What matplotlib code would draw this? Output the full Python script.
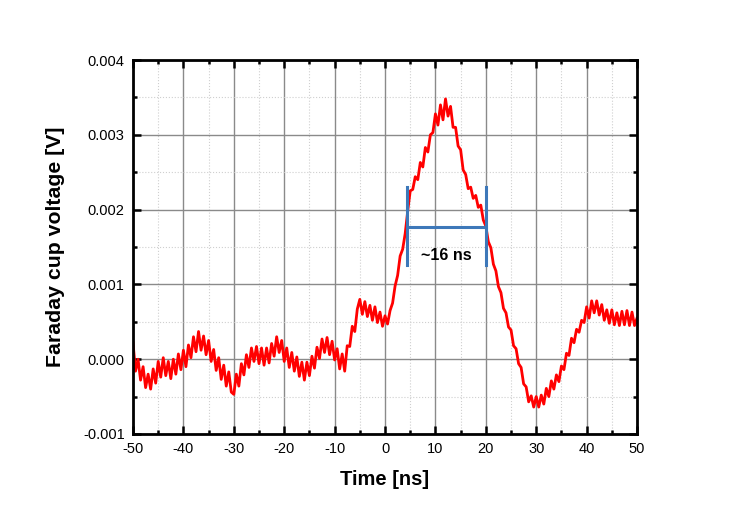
import numpy as np
import matplotlib
matplotlib.use("Agg")
import matplotlib.pyplot as plt
from matplotlib.ticker import MultipleLocator, FormatStrFormatter

# Faraday cup trace, every 0.5 ns from -50 to 50 ns (mV)
volt_mv = [
    0.22, -0.16, 0.0, -0.28, -0.1, -0.38, -0.2, -0.4, -0.13, -0.32,
    -0.03, -0.24, 0.02, -0.22, -0.03, -0.26, 0.0, -0.2, 0.07, -0.14,
    0.12, -0.1, 0.19, 0.02, 0.3, 0.1, 0.37, 0.12, 0.31, 0.06,
    0.25, -0.03, 0.13, -0.15, 0.02, -0.27, -0.08, -0.36, -0.17, -0.44,
    -0.47, -0.2, -0.36, -0.06, -0.21, 0.06, -0.11, 0.15, -0.03, 0.17,
    -0.06, 0.15, -0.08, 0.15, -0.05, 0.21, 0.04, 0.3, 0.09, 0.25,
    -0.03, 0.15, -0.11, 0.09, -0.16, 0.03, -0.23, -0.04, -0.28, -0.04,
    -0.22, 0.04, -0.12, 0.16, 0.01, 0.27, 0.09, 0.29, 0.06, 0.24,
    -0.01, 0.14, -0.13, 0.07, -0.16, 0.18, 0.17, 0.44, 0.37, 0.67,
    0.8, 0.6, 0.77, 0.57, 0.72, 0.52, 0.7, 0.49, 0.63, 0.44,
    0.58, 0.47, 0.65, 0.75, 0.98, 1.12, 1.38, 1.47, 1.68, 1.98,
    2.25, 2.27, 2.44, 2.4, 2.63, 2.57, 2.83, 2.77, 3.0, 3.03,
    3.28, 3.13, 3.4, 3.2, 3.48, 3.25, 3.38, 3.1, 3.1, 2.85,
    2.8, 2.53, 2.47, 2.28, 2.3, 2.15, 2.19, 2.03, 2.06, 1.86,
    1.78, 1.57, 1.49, 1.27, 1.18, 0.97, 0.89, 0.68, 0.62, 0.43,
    0.39, 0.18, 0.14, -0.06, -0.11, -0.33, -0.37, -0.57, -0.49, -0.64,
    -0.5, -0.64, -0.48, -0.6, -0.39, -0.5, -0.29, -0.4, -0.21, -0.3,
    -0.09, -0.14, 0.08, 0.05, 0.28, 0.22, 0.4, 0.36, 0.52, 0.49,
    0.7, 0.55, 0.78, 0.62, 0.78, 0.59, 0.73, 0.52, 0.66, 0.48,
    0.66, 0.46, 0.62, 0.45, 0.64, 0.46, 0.65, 0.45, 0.63, 0.45,
    0.55,
]

# FWHM marker
fwhm_start = 4.4
fwhm_end = 20.0
fwhm_level = 0.00177
fwhm_bar_low = 0.00126
fwhm_bar_high = 0.00230
fwhm_label = "~16 ns"

x_label = "Time [ns]"
y_label = "Faraday cup voltage [V]"

TICK_FONT = ["Liberation Sans Narrow", "Liberation Sans", "DejaVu Sans"]
LABEL_FONT = ["Liberation Sans", "DejaVu Sans"]


def style_axes(ax):
    ax.set_xlim(-50, 50)
    ax.set_ylim(-0.001, 0.004)
    ax.xaxis.set_major_locator(MultipleLocator(10))
    ax.xaxis.set_minor_locator(MultipleLocator(5))
    ax.yaxis.set_major_locator(MultipleLocator(0.001))
    ax.yaxis.set_minor_locator(MultipleLocator(0.0005))
    ax.yaxis.set_major_formatter(FormatStrFormatter("%.3f"))
    ax.xaxis.set_major_formatter(FormatStrFormatter("%d"))

    ax.grid(which="major", color="#8a8a8a", linewidth=1.0)
    ax.grid(which="minor", color="#cfcfcf", linewidth=0.8, linestyle=":")
    ax.set_axisbelow(True)

    for spine in ax.spines.values():
        spine.set_linewidth(2.0)
    ax.tick_params(which="both", direction="in", top=True, right=True, width=1.8)
    ax.tick_params(which="major", length=6, labelsize=10.5, pad=6)
    ax.tick_params(which="minor", length=3)
    for lbl in ax.get_xticklabels() + ax.get_yticklabels():
        lbl.set_family(TICK_FONT)


def main():
    fig = plt.figure(figsize=(7.41, 5.2), dpi=100)
    ax = fig.add_axes([0.1795, 0.1654, 0.6802, 0.7192])

    volts = np.array(volt_mv) / 1000.0
    t = np.linspace(-50, 50, len(volts))
    ax.plot(t, volts, color="#ff0000", linewidth=2.0)

    # FWHM annotation
    blue = "#3d78b9"
    ax.plot([fwhm_start, fwhm_start], [fwhm_bar_low, fwhm_bar_high], color=blue, linewidth=2.2)
    ax.plot([fwhm_end, fwhm_end], [fwhm_bar_low, fwhm_bar_high], color=blue, linewidth=2.2)
    ax.plot([fwhm_start, fwhm_end], [fwhm_level, fwhm_level], color=blue, linewidth=2.2)
    ax.text((fwhm_start + fwhm_end) / 2, 0.00138, fwhm_label, ha="center", va="center",
            fontsize=11.5, fontweight="bold", family=LABEL_FONT)

    style_axes(ax)
    ax.set_xlabel(x_label, fontsize=14.5, fontweight="bold", family=LABEL_FONT, labelpad=10)
    ax.set_ylabel(y_label, fontsize=15.3, fontweight="bold", family=LABEL_FONT, labelpad=13)

    fig.savefig("out.png", dpi=100)


if __name__ == "__main__":
    main()
